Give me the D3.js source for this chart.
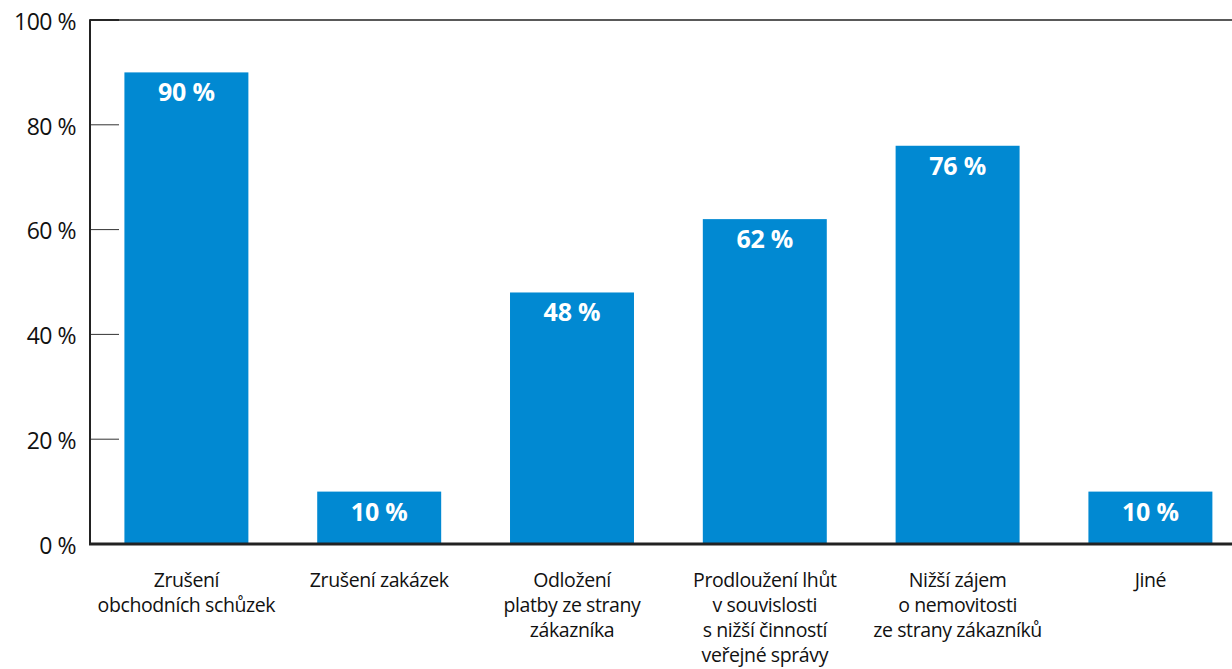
<!DOCTYPE html>
<html><head><meta charset="utf-8">
<script src="https://cdn.jsdelivr.net/npm/d3@7"></script>
<style>body{margin:0;background:#fff}svg{display:block}</style>
</head><body><svg id="c" width="1232" height="669"></svg>
<script>
const categories = [
  ["Zrušení","obchodních schůzek"],
  ["Zrušení zakázek"],
  ["Odložení","platby ze strany","zákazníka"],
  ["Prodloužení lhůt","v souvislosti","s nižší činností","veřejné správy"],
  ["Nižší zájem","o nemovitosti","ze strany zákazníků"],
  ["Jiné"]
];
const values = [90, 10, 48, 62, 76, 10];
const yTicks = [0, 20, 40, 60, 80, 100];
const font = "'Open Sans', sans-serif";

const svg = d3.select("#c");
const x0 = 90, yTop = 20, yBot = 544, step = 192.8;
const x = d3.scaleBand().domain(d3.range(values.length))
  .range([x0, x0 + step*values.length]).paddingInner(0.357).paddingOuter(0.1785);
const y = d3.scaleLinear().domain([0,100]).range([yBot, yTop]);

// bars
svg.selectAll("rect.bar").data(values).join("rect").attr("class","bar")
  .attr("x",(d,i)=>x(i)).attr("width",x.bandwidth())
  .attr("y",d=>y(d)).attr("height",d=>yBot-y(d)).attr("fill","#0189d2");

// value labels
svg.selectAll("text.val").data(values).join("text").attr("class","val")
  .attr("x",(d,i)=>x(i)+x.bandwidth()/2).attr("y",d=>y(d)+29)
  .attr("text-anchor","middle").attr("fill","#fff")
  .style("font-family",font).style("font-weight","700").style("font-size","25px")
  .style("letter-spacing","-0.2px")
  .text(d=>d+" %");

// y axis
const yAxis = d3.axisLeft(y).tickValues(yTicks).tickSize(0).tickPadding(14).tickFormat(d=>d+" %");
const ga = svg.append("g").attr("transform",`translate(${x0},0)`).call(yAxis);
ga.select(".domain").remove();
ga.selectAll("text").style("font-family",font).style("font-size","23px").attr("fill","#111")
  .style("letter-spacing","-0.5px").attr("dy","0.4em");
// inner tick marks
svg.selectAll("line.tk").data(yTicks.filter(d=>d>0)).join("line").attr("class","tk")
  .attr("x1",x0).attr("x2",x0+29).attr("y1",d=>y(d)).attr("y2",d=>y(d))
  .attr("stroke","#333").attr("stroke-width",d=>d===100?2:1);

// frame lines
svg.append("line").attr("x1",x0).attr("x2",1232).attr("y1",yTop).attr("y2",yTop).attr("stroke","#222").attr("stroke-width",1.5);
svg.append("line").attr("x1",x0).attr("x2",x0).attr("y1",yTop-0.75).attr("y2",yBot).attr("stroke","#222").attr("stroke-width",2);
svg.append("line").attr("x1",x0-1).attr("x2",1232).attr("y1",yBot).attr("y2",yBot).attr("stroke","#222").attr("stroke-width",3);

// category labels
const cg = svg.selectAll("text.cat").data(categories).join("text").attr("class","cat")
  .attr("x",(d,i)=>x(i)+x.bandwidth()/2).attr("y",587)
  .attr("text-anchor","middle").attr("fill","#111")
  .style("font-family",font).style("font-size","19.5px").style("letter-spacing","-0.4px");
cg.each(function(lines){
  const t = d3.select(this), cx = t.attr("x");
  lines.forEach((l,j)=>t.append("tspan").attr("x",cx).attr("dy",j===0?0:25).text(l));
});
</script>
</body></html>
